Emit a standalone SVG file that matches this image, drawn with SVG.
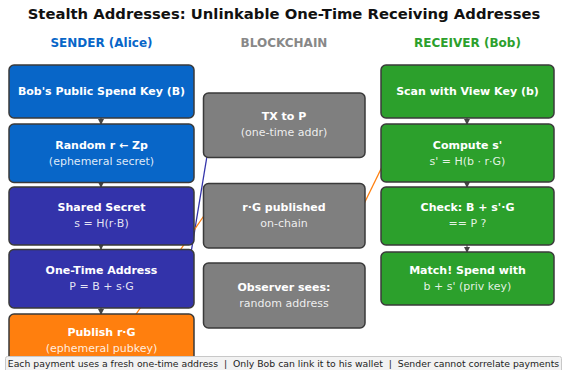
<svg xmlns="http://www.w3.org/2000/svg" width="564" height="370" viewBox="0 0 564 370">
<defs>
<marker id="ah" viewBox="0 0 6 6" refX="5" refY="3" markerWidth="6" markerHeight="6" markerUnits="userSpaceOnUse" orient="auto">
<path d="M0,0 L6,3 L0,6 z" fill="#444"/>
</marker>
</defs>
<style>
text{font-family:"DejaVu Sans",sans-serif;text-anchor:middle}
.title{font-size:14.8px;font-weight:bold;fill:#111}
.hdr{font-size:12px;font-weight:bold}
.box{stroke:#3a3a3a;stroke-width:1.5}
.b{font-size:11px;font-weight:bold;fill:#fff}
.s{font-size:11px;fill:#fff;fill-opacity:0.88}
.blue{fill:#0866c8}
.purple{fill:#3333aa}
.orange{fill:#ff7f0e}
.green{fill:#2ca02c}
.gray{fill:#7f7f7f}
.va{stroke:#444;stroke-width:1;marker-end:url(#ah)}
.foot{font-size:9.3px;fill:#222}
</style>
<rect width="564" height="370" fill="#fff"/>
<text class="title" x="284" y="19">Stealth Addresses: Unlinkable One-Time Receiving Addresses</text>
<text class="hdr" x="101.5" y="47" fill="#0866c8">SENDER (Alice)</text>
<text class="hdr" x="284" y="47" fill="#888">BLOCKCHAIN</text>
<text class="hdr" x="467.5" y="47" fill="#2ca02c">RECEIVER (Bob)</text>

<g id="connectors">
<line class="va" x1="101" y1="117" x2="101" y2="124"/>
<line class="va" x1="101" y1="182" x2="101" y2="187"/>
<line class="va" x1="101" y1="245" x2="101" y2="249"/>
<line class="va" x1="101" y1="308" x2="101" y2="314"/>
<line class="va" x1="467" y1="117" x2="467" y2="124"/>
<line class="va" x1="467" y1="182" x2="467" y2="187"/>
<line class="va" x1="467" y1="245" x2="467" y2="252"/>
<line x1="189" y1="265" x2="208" y2="150" stroke="#3333aa" stroke-width="1.3"/>
<line x1="132" y1="320" x2="210" y2="207" stroke="#ff7f0e" stroke-width="1.3"/>
<line x1="360" y1="212" x2="385.4" y2="160" stroke="#ff7f0e" stroke-width="1.3"/>
</g>

<g id="n-bob-pub">
<rect class="box blue" x="9" y="65" width="185" height="53" rx="5"/>
<text class="b" x="101.5" y="95">Bob's Public Spend Key (B)</text>
</g>
<g id="n-random">
<rect class="box blue" x="9" y="124" width="185" height="58.5" rx="5"/>
<text class="b" x="101.5" y="149">Random r ← Zp</text>
<text class="s" x="101.5" y="165">(ephemeral secret)</text>
</g>
<g id="n-shared">
<rect class="box purple" x="9" y="187" width="185" height="58" rx="5"/>
<text class="b" x="101.5" y="211">Shared Secret</text>
<text class="s" x="101.5" y="227">s = H(r·B)</text>
</g>
<g id="n-onetime">
<rect class="box purple" x="9" y="249.5" width="185" height="58.5" rx="5"/>
<text class="b" x="101.5" y="274">One-Time Address</text>
<text class="s" x="101.5" y="290">P = B + s·G</text>
</g>
<g id="n-publish">
<rect class="box orange" x="9" y="314" width="185" height="60" rx="5"/>
<text class="b" x="101.5" y="336">Publish r·G</text>
<text class="s" x="101.5" y="352">(ephemeral pubkey)</text>
</g>

<g id="n-tx">
<rect class="box gray" x="203.5" y="93" width="161.5" height="64.5" rx="5"/>
<text class="b" x="284" y="120">TX to P</text>
<text class="s" x="284" y="136">(one-time addr)</text>
</g>
<g id="n-rg">
<rect class="box gray" x="203.5" y="183.5" width="161.5" height="64.5" rx="5"/>
<text class="b" x="284" y="211">r·G published</text>
<text class="s" x="284" y="227">on-chain</text>
</g>
<g id="n-observer">
<rect class="box gray" x="203.5" y="263" width="161.5" height="65" rx="5"/>
<text class="b" x="284" y="291">Observer sees:</text>
<text class="s" x="284" y="307">random address</text>
</g>

<g id="n-scan">
<rect class="box green" x="381" y="65" width="173" height="53" rx="5"/>
<text class="b" x="467.5" y="95">Scan with View Key (b)</text>
</g>
<g id="n-compute">
<rect class="box green" x="381" y="124" width="173" height="58" rx="5"/>
<text class="b" x="467.5" y="149">Compute s'</text>
<text class="s" x="467.5" y="165">s' = H(b · r·G)</text>
</g>
<g id="n-check">
<rect class="box green" x="381" y="187" width="173" height="58" rx="5"/>
<text class="b" x="467.5" y="211">Check: B + s'·G</text>
<text class="s" x="467.5" y="227">== P ?</text>
</g>
<g id="n-match">
<rect class="box green" x="381" y="252" width="173" height="53" rx="5"/>
<text class="b" x="467.5" y="274">Match! Spend with</text>
<text class="s" x="467.5" y="290">b + s' (priv key)</text>
</g>

<g id="footer">
<rect x="5.5" y="356.5" width="556" height="16" fill="#f2f2f2" stroke="#c8c8c8" stroke-width="1" rx="2"/>
<text class="foot" x="283.5" y="367">Each payment uses a fresh one-time address&#160; |&#160; Only Bob can link it to his wallet&#160; |&#160; Sender cannot correlate payments</text>
</g>
</svg>
